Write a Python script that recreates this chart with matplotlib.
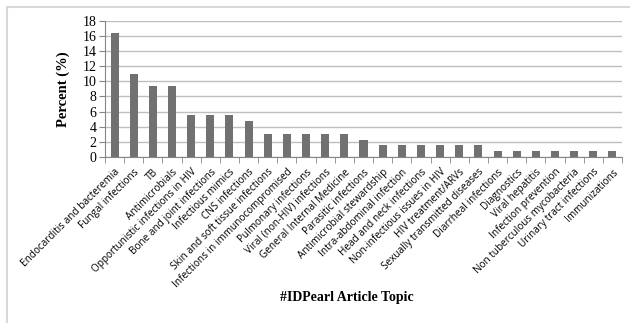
import matplotlib.pyplot as plt
from matplotlib.patches import Rectangle

topics = ['Endocarditis and bacteremia', 'Fungal infections', 'TB', 'Antimicrobials',
          'Opportunistic infections in HIV', 'Bone and joint infections', 'Infectious mimics',
          'CNS infections', 'Skin and soft tissue infections', 'Infections in immunocompromised',
          'Pulmonary infections', 'Viral (non-HIV) infections', 'General Internal Medicine',
          'Parasitic infections', 'Antimicrobial stewardship', 'Intra-abdominal infection',
          'Head and neck infections', 'Non-infectious issues in HIV', 'HIV treatment/ARVs',
          'Sexually transmitted diseases', 'Diarrheal infections', 'Diagnostics',
          'Viral hepatitis', 'Infection prevention', 'Non tuberculous mycobacteria',
          'Urinary tract infections', 'Immunizations']
percent = [16.4, 10.9, 9.4, 9.4, 5.5, 5.5, 5.5, 4.7, 3.1, 3.1, 3.1, 3.1, 3.1, 2.3,
           1.6, 1.6, 1.6, 1.6, 1.6, 1.6, 0.8, 0.8, 0.8, 0.8, 0.8, 0.8, 0.8]
y_ticks = list(range(0, 19, 2))

W, H = 630, 323
fig = plt.figure(figsize=(W / 100, H / 100), dpi=100)

# chart-area frame (only top and left visible in the crop)
fig.patches.append(Rectangle((7 / W, -0.1), 1.2, (H - 7) / H + 0.1, transform=fig.transFigure,
                             fill=False, edgecolor='#d9d9d9', linewidth=1.5))

ax = fig.add_axes([105 / W, (H - 157) / H, (622 - 105) / W, (157 - 20.7) / H])
x = range(len(topics))
ax.bar(x, percent, width=0.42, color='#717171', zorder=3)

ax.set_xlim(-0.5, len(topics) - 0.5)
ax.set_ylim(0, 18)
ax.set_yticks(y_ticks)
ax.set_yticklabels([str(v) for v in y_ticks], fontfamily='Liberation Serif', fontsize=10)
ax.yaxis.grid(True, color='#bfbfbf', linewidth=1, zorder=0)
ax.tick_params(axis='y', length=4, color='#868686', pad=2)

ax.set_xticks(x)
ax.set_xticklabels(topics, rotation=45, ha='right', rotation_mode='anchor',
                   fontfamily='Open Sans', fontsize=7.2)
ax.set_xticks([i - 0.5 for i in range(len(topics) + 1)], minor=True)
ax.tick_params(axis='x', which='major', length=0, pad=7)
ax.tick_params(axis='x', which='minor', length=4, color='#868686')

for s in ['top', 'right']:
    ax.spines[s].set_visible(False)
for s in ['left', 'bottom']:
    ax.spines[s].set_color('#868686')

ax.set_ylabel('Percent (%)', fontfamily='Liberation Serif', fontweight='bold', fontsize=10.5,
              labelpad=9)
fig.text(347 / W, 1 - 297 / H, '#IDPearl Article Topic', ha='center', va='center',
         fontfamily='Liberation Serif', fontweight='bold', fontsize=10)

fig.savefig('out.png', dpi=100)
